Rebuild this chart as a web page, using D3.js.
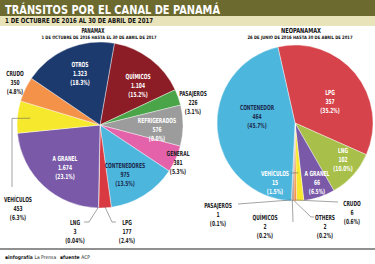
<!DOCTYPE html>
<html>
<head>
<meta charset="utf-8">
<script src="https://cdn.jsdelivr.net/npm/d3@7"></script>
<style>
  body { margin: 0; background: #fff; }
  svg { display: block; font-family: "DejaVu Sans Condensed", "DejaVu Sans", sans-serif; font-weight: bold; }
</style>
</head>
<body>
<div id="chart"></div>
<script>
// panamax, 1 oct 2016 - 30 abr 2017
const panamaxCats = ["QUÍMICOS", "PASAJEROS", "REFRIGERADOS", "GENERAL", "CONTENEDORES", "LPG", "LNG", "A GRANEL", "VEHÍCULOS", "CRUDO", "OTROS"];
const panamaxValues = [1104, 226, 576, 381, 975, 177, 3, 1674, 453, 350, 1323];
const panamaxPct = ["15.2%", "3.1%", "8.0%", "5.3%", "13.5%", "2.4%", "0.04%", "23.1%", "6.3%", "4.8%", "18.3%"];

// neopanamax, 26 jun 2016 - 30 abr 2017
const neoCats = ["LPG", "LNG", "A GRANEL", "VEHÍCULOS", "CRUDO", "OTHERS", "QUÍMICOS", "PASAJEROS", "CONTENEDOR"];
const neoValues = [357, 102, 66, 15, 6, 2, 2, 1, 464];
const neoPct = ["35.2%", "10.0%", "6.5%", "1.5%", "0.6%", "0.2%", "0.2%", "0.1%", "45.7%"];

const width = 375, height = 264;
const dark = "#222", navy = "#1c2b4d";

const svg = d3.select("#chart").append("svg")
    .attr("width", width)
    .attr("height", height);

const fmt = d3.formatLocale({ decimal: ",", thousands: ".", grouping: [3], currency: ["", ""] }).format(",");

// header
svg.append("rect").attr("x", 0).attr("y", 0).attr("width", width).attr("height", 16).attr("fill", "#6d6a2f");
svg.append("rect").attr("x", 0).attr("y", 16).attr("width", width).attr("height", 10).attr("fill", "#e8e3b9");
svg.append("text").attr("x", 5).attr("y", 13.5).attr("font-size", 12.5).attr("fill", "#fff")
    .attr("textLength", 215).attr("lengthAdjust", "spacingAndGlyphs")
    .text("TRÁNSITOS POR EL CANAL DE PANAMÁ");
svg.append("text").attr("x", 5).attr("y", 23.4).attr("font-size", 7).attr("fill", "#111")
    .attr("textLength", 148).attr("lengthAdjust", "spacingAndGlyphs")
    .text("1 DE OCTUBRE DE 2016 AL 30 DE ABRIL DE 2017");

function drawPie(cfg) {
    const color = d3.scaleOrdinal().domain(cfg.cats).range(cfg.colors);
    const pie = d3.pie().sort(null).value((d, i) => cfg.values[i])
        .startAngle(cfg.start * Math.PI / 180)
        .endAngle(cfg.start * Math.PI / 180 + 2 * Math.PI);
    const arcs = pie(cfg.cats);
    const arc = d3.arc().innerRadius(0).outerRadius(cfg.r);

    const g = svg.append("g").attr("transform", "translate(" + cfg.cx + "," + cfg.cy + ")");
    g.selectAll("path")
        .data(arcs)
        .enter()
        .append("path")
        .attr("d", arc)
        .attr("fill", d => color(d.data))
        .attr("stroke", "#fff")
        .attr("stroke-width", 0.4);

    // titles
    svg.append("text").attr("x", cfg.titleX).attr("y", 33).attr("text-anchor", "middle")
        .attr("font-size", 7).attr("fill", "#111")
        .attr("textLength", cfg.titleW).attr("lengthAdjust", "spacingAndGlyphs")
        .text(cfg.title);
    svg.append("text").attr("x", cfg.subX).attr("y", 38.5).attr("text-anchor", "middle")
        .attr("font-size", 4.6).attr("fill", "#111")
        .attr("textLength", cfg.subW).attr("lengthAdjust", "spacingAndGlyphs")
        .text(cfg.sub);

    // leader lines
    arcs.forEach(a => {
        const ld = cfg.leaders[a.data];
        if (!ld) return;
        const mid = (a.startAngle + a.endAngle) / 2;
        const p0 = [cfg.cx + ld.r * Math.sin(mid), cfg.cy - ld.r * Math.cos(mid)];
        svg.append("path")
            .attr("d", d3.line()([p0].concat(ld.pts)))
            .attr("fill", "none")
            .attr("stroke", "#666")
            .attr("stroke-width", 0.6);
    });

    // labels
    cfg.cats.forEach((c, i) => {
        const p = cfg.labels[c];
        const t = svg.append("text")
            .attr("class", "lbl")
            .attr("text-anchor", "middle")
            .attr("font-size", 7)
            .attr("fill", p[2]);
        [c, fmt(cfg.values[i]), "(" + cfg.pct[i] + ")"].forEach((s, j) => {
            t.append("tspan").attr("x", p[0]).attr("y", p[1] + j * 9 + 2.5).text(s);
        });
    });
}

drawPie({
    cats: panamaxCats, values: panamaxValues, pct: panamaxPct,
    colors: ["#8c1d26", "#4aa548", "#9c9c9c", "#e362aa", "#4db6dd", "#d93a41", "#a8c04a", "#7a5aa8", "#f6e82c", "#f5924a", "#1d3a6e"],
    cx: 100, cy: 125, r: 83, start: 10,
    title: "PANAMAX", titleX: 93, titleW: 23,
    sub: "1 DE OCTUBRE DE 2016 HASTA EL 30 DE ABRIL DE 2017", subX: 99, subW: 115,
    labels: {
        "OTROS": [80, 64, "#fff"], "QUÍMICOS": [138, 76, "#fff"], "CRUDO": [15, 73, dark],
        "PASAJEROS": [193, 93, dark], "REFRIGERADOS": [157, 120, "#fff"], "GENERAL": [178, 153, dark],
        "A GRANEL": [65, 158, "#fff"], "CONTENEDORES": [125, 165, navy], "VEHÍCULOS": [18, 199, dark],
        "LNG": [75, 222, dark], "LPG": [127, 222, dark]
    },
    leaders: {
        "VEHÍCULOS": { r: 70, pts: [[12, 118.4], [12, 187]] },
        "LNG": { r: 82, pts: [[89, 222], [84, 222]] },
        "LPG": { r: 82, pts: [[112, 222], [116, 222]] }
    }
});

drawPie({
    cats: neoCats, values: neoValues, pct: neoPct,
    colors: ["#d6434a", "#a8c04a", "#7a5aa8", "#f6e82c", "#f5924a", "#5a3a1e", "#6b2a1e", "#3a2a1e", "#4db6dd"],
    cx: 295, cy: 123, r: 78, start: -12.7,
    title: "NEOPANAMAX", titleX: 301, titleW: 40,
    sub: "26 DE JUNIO DE 2016 HASTA 30 DE ABRIL DE 2017", subX: 300, subW: 105,
    labels: {
        "CONTENEDOR": [257, 107, navy], "LPG": [330, 92, "#fff"], "LNG": [343, 150.5, "#fff"],
        "VEHÍCULOS": [275, 173, "#fff"], "A GRANEL": [317, 173.5, "#fff"], "PASAJEROS": [218, 205, dark],
        "QUÍMICOS": [265, 217, dark], "OTHERS": [325, 217, dark], "CRUDO": [352, 203, dark]
    },
    leaders: {
        "VEHÍCULOS": { r: 50, pts: [[291, 173]] },
        "PASAJEROS": { r: 77, pts: [[238, 204]] },
        "QUÍMICOS": { r: 77, pts: [[293, 222]] },
        "OTHERS": { r: 77, pts: [[311, 217], [314, 217]] },
        "CRUDO": { r: 77, pts: [[338, 202]] }
    }
});

// condensed look for the slice labels
svg.selectAll("tspan").each(function () {
    const w = this.getComputedTextLength();
    d3.select(this).attr("textLength", w * 0.7).attr("lengthAdjust", "spacingAndGlyphs");
});

// footer
svg.append("line").attr("x1", 0).attr("x2", width).attr("y1", 249).attr("y2", 249)
    .attr("stroke", "#222").attr("stroke-width", 1.2);
const foot = svg.append("text").attr("x", 5).attr("y", 258.5).attr("font-size", 5).attr("fill", "#222");
foot.append("tspan").text("▪infografía ");
foot.append("tspan").attr("font-weight", "normal").text("La Prensa");
foot.append("tspan").attr("x", 60).text("▪fuente ");
foot.append("tspan").attr("font-weight", "normal").text("ACP");
</script>
</body>
</html>
